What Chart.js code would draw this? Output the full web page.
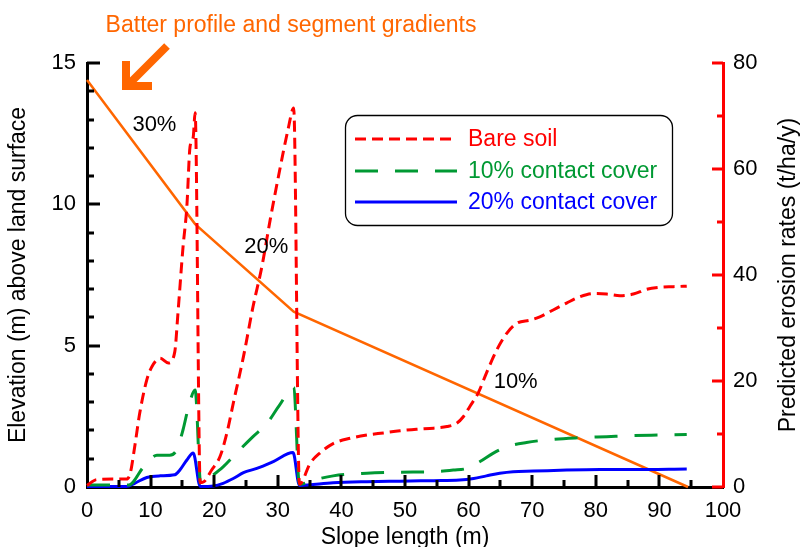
<!DOCTYPE html>
<html>
<head>
<meta charset="utf-8">
<script src="https://cdn.jsdelivr.net/npm/chart.js@4.4.1/dist/chart.umd.min.js"></script>
<style>
  html, body { margin: 0; padding: 0; background: #fff; }
  #wrap { width: 802px; height: 547px; }
</style>
</head>
<body>
<div id="wrap"><canvas id="myChart" width="802" height="547"></canvas></div>
<script>
// batter profile, elevation in m (left axis)
const profileX = [0, 17, 32.5, 94.5];
const profileElev = [14.4, 9.3, 6.2, 0];

// predicted erosion rates, t/ha/y (right axis)
const bareSoilX = [0, 1.5, 4, 6.2, 6.8, 7.5, 8.3, 9.4, 10.2, 11.5, 12.8, 13.8, 14.3, 15.1, 15.7, 16.2, 16.7, 17.0, 17.8, 18.4,
  19.6, 20.9, 22.0, 23.0, 24.6, 26.1, 27.5, 28.8, 30.3, 31.6, 32.5, 33.4, 35.1, 36.6, 38.7, 41.4, 44.0, 46.6, 49.2, 51.8,
  54.5, 56.6, 58.1, 59.2, 60.2, 61.5, 62.8, 64.4, 66.0, 67.6, 69.7, 71.2, 73.3, 75.4, 77.5, 79.6, 81.7, 83.8, 85.9, 88.0,
  90.1, 92.2, 94.3];
const bareSoil = [0.3, 1.4, 1.5, 1.5, 2.6, 7.6, 14.0, 20.2, 22.7, 24.3, 23.4, 25.5, 32.8, 45.3, 52.9, 64.2, 66.0, 70.6, 0.8, 1.0,
  3.2, 5.7, 10.2, 15.8, 24.6, 34.0, 41.6, 50.4, 59.8, 67.4, 71.5, 0.5, 4.5, 6.4, 8.2, 9.2, 9.8, 10.2, 10.6, 10.9,
  11.1, 11.4, 12.0, 13.3, 15.2, 17.7, 21.5, 25.8, 29.0, 30.9, 31.5, 32.1, 33.4, 34.7, 35.9, 36.5, 36.4, 36.1, 36.4, 37.3,
  37.7, 37.8, 37.9];

const coverTenX = [0, 3, 6.6, 8.9, 11.0, 13.0, 14.1, 15.1, 15.9, 17.0, 17.9, 18.8, 21.4, 23.5, 26.1, 28.3, 30.3, 32.5,
  33.4, 35.6, 38.7, 44.0, 49.2, 54.5, 57.6, 59.7, 61.8, 63.9, 66.0, 69.1, 73.3, 77.5, 81.7, 85.9, 90.1, 94.3];
const coverTen = [0.4, 0.4, 0.4, 3.8, 6.0, 6.0, 7.0, 10.8, 14.8, 18.3, 0.4, 1.3, 3.8, 6.4, 9.5, 12.0, 15.5, 18.8,
  0.5, 1.3, 2.1, 2.6, 2.8, 2.9, 3.2, 3.5, 4.8, 6.4, 7.6, 8.4, 9.0, 9.3, 9.5, 9.7, 9.8, 9.9];

const coverTwentyX = [0, 6.2, 7.5, 9.4, 11.5, 13.8, 14.6, 15.7, 16.7, 17.8, 19.9, 21.4, 23.0, 24.6, 26.7, 29.3, 32.4,
  33.4, 38.7, 44.0, 49.2, 54.5, 58.6, 60.8, 62.8, 64.9, 67.0, 70.2, 75.4, 80.7, 85.9, 94.3];
const coverTwenty = [0.1, 0.1, 0.7, 1.8, 2.1, 2.3, 3.2, 5.1, 6.4, 0.1, 0.2, 0.7, 1.6, 2.7, 3.5, 4.8, 6.5,
  0.3, 0.8, 1.0, 1.1, 1.2, 1.3, 1.6, 2.1, 2.6, 2.9, 3.0, 3.2, 3.3, 3.3, 3.4];

// segment gradient labels (placed in data coords of the profile)
const gradientLabels = ['30%', '20%', '10%'];
const gradientX = [10.6, 28.2, 67.4];
const gradientY = [12.8, 8.5, 3.7];

const FONT = "'Liberation Sans', Arial, sans-serif";
const ORANGE = '#ff6600';

function pts(xs, ys) {
  return xs.map((x, i) => ({ x: x, y: ys[i] }));
}

// inward ticks (major + minor), right title, legend box, notes
const decor = {
  id: 'decor',
  afterDraw(chart) {
    const ctx = chart.ctx;
    const sx = chart.scales.x, sy = chart.scales.y, sy1 = chart.scales.y1;
    const a = chart.chartArea;
    ctx.save();
    ctx.lineWidth = 3;
    ctx.lineCap = 'butt';

    //x ticks every 5, long every 10
    ctx.strokeStyle = '#000';
    ctx.beginPath();
    for (let v = 5; v < 100; v += 5) {
      const px = Math.round(sx.getPixelForValue(v));
      const len = v % 10 === 0 ? 12 : 7;
      ctx.moveTo(px, a.bottom);
      ctx.lineTo(px, a.bottom - len);
    }
    //left ticks every 1, long every 5
    for (let v = 1; v <= 15; v += 1) {
      const py = Math.round(sy.getPixelForValue(v));
      const len = v % 5 === 0 ? 13 : 7;
      ctx.moveTo(a.left, py);
      ctx.lineTo(a.left + len, py);
    }
    ctx.stroke();

    //right ticks every 10, long every 20
    ctx.strokeStyle = '#ff0000';
    ctx.beginPath();
    for (let v = 0; v <= 80; v += 10) {
      const py = Math.round(sy1.getPixelForValue(v));
      const len = v % 20 === 0 ? 11 : 6;
      ctx.moveTo(a.right, py);
      ctx.lineTo(a.right - len, py);
    }
    ctx.stroke();

    // right axis title reads bottom to top
    ctx.fillStyle = '#000';
    ctx.font = '23px ' + FONT;
    ctx.textAlign = 'center';
    ctx.textBaseline = 'middle';
    ctx.save();
    ctx.translate(789, (a.top + a.bottom) / 2);
    ctx.rotate(-Math.PI / 2);
    ctx.fillText('Predicted erosion rates (t/ha/y)', 0, 0);
    ctx.restore();

    // gradient labels
    ctx.font = '22px ' + FONT;
    gradientLabels.forEach((t, i) => {
      ctx.fillText(t, sx.getPixelForValue(gradientX[i]), sy.getPixelForValue(gradientY[i]));
    });

    // chart title + arrow
    ctx.fillStyle = ORANGE;
    ctx.font = '23px ' + FONT;
    ctx.textBaseline = 'alphabetic';
    ctx.fillText('Batter profile and segment gradients', 291, 32);
    ctx.strokeStyle = ORANGE;
    ctx.lineWidth = 8;
    ctx.lineJoin = 'miter';
    ctx.beginPath();
    ctx.moveTo(167, 46);
    ctx.lineTo(128, 85);
    ctx.stroke();
    ctx.beginPath();
    ctx.moveTo(126, 61);
    ctx.lineTo(126, 86);
    ctx.lineTo(152, 86);
    ctx.stroke();

    // legend
    ctx.lineWidth = 1.3;
    ctx.strokeStyle = '#000';
    ctx.fillStyle = '#fff';
    ctx.beginPath();
    ctx.roundRect(345.5, 115.5, 327, 110, 12);
    ctx.fill();
    ctx.stroke();
    ctx.textAlign = 'left';
    ctx.textBaseline = 'middle';
    ctx.font = '23px ' + FONT;
    const rows = [139, 171, 202];
    chart.data.datasets.filter(d => d.yAxisID === 'y1').forEach((d, i) => {
      ctx.strokeStyle = d.borderColor;
      ctx.lineWidth = 3;
      ctx.setLineDash(d.borderDash || []);
      ctx.beginPath();
      ctx.moveTo(355, rows[i]);
      ctx.lineTo(457, rows[i]);
      ctx.stroke();
      ctx.setLineDash([]);
      ctx.fillStyle = d.borderColor;
      ctx.fillText(d.label, 468, rows[i] + 1);
    });
    ctx.restore();
  }
};

new Chart(document.getElementById('myChart'), {
  type: 'line',
  data: {
    datasets: [
      {
        label: 'Bare soil',
        data: pts(bareSoilX, bareSoil),
        yAxisID: 'y1',
        borderColor: '#ff0000',
        borderWidth: 3,
        borderDash: [11, 6],
        cubicInterpolationMode: 'monotone',
        pointRadius: 0,
        clip: 4
      },
      {
        label: '10% contact cover',
        data: pts(coverTenX, coverTen),
        yAxisID: 'y1',
        borderColor: '#009933',
        borderWidth: 3,
        borderDash: [23, 17],
        cubicInterpolationMode: 'monotone',
        pointRadius: 0,
        clip: 4
      },
      {
        label: '20% contact cover',
        data: pts(coverTwentyX, coverTwenty),
        yAxisID: 'y1',
        borderColor: '#0000ff',
        borderWidth: 3,
        cubicInterpolationMode: 'monotone',
        pointRadius: 0,
        clip: 4
      },
      {
        label: 'Batter profile',
        data: pts(profileX, profileElev),
        yAxisID: 'y',
        borderColor: ORANGE,
        borderWidth: 2.5,
        tension: 0,
        pointRadius: 0,
        clip: 4
      }
    ]
  },
  options: {
    responsive: false,
    animation: false,
    devicePixelRatio: 1,
    layout: { padding: { top: 63, right: 0, bottom: 0, left: 0 } },
    plugins: {
      legend: { display: false },
      tooltip: { enabled: false },
      title: { display: false }
    },
    scales: {
      x: {
        type: 'linear',
        min: 0,
        max: 100,
        ticks: { stepSize: 10, padding: 11, color: '#000', font: { family: FONT, size: 22 }, maxRotation: 0 },
        grid: { display: false, drawTicks: false },
        border: { display: true, color: '#000', width: 3 },
        title: { display: true, text: 'Slope length (m)', color: '#000', font: { family: FONT, size: 23 }, padding: { top: 0, bottom: -4 } },
        afterFit(scale) { scale.height = 60; }
      },
      y: {
        position: 'left',
        min: 0,
        max: 15,
        ticks: { stepSize: 5, padding: 11, color: '#000', font: { family: FONT, size: 22 } },
        grid: { display: false, drawTicks: false },
        border: { display: true, color: '#000', width: 3 },
        title: { display: true, text: 'Elevation (m) above land surface', color: '#000', font: { family: FONT, size: 23 }, padding: { top: 5, bottom: 0 } },
        afterFit(scale) { scale.width = 87; }
      },
      y1: {
        position: 'right',
        min: 0,
        max: 80,
        ticks: { stepSize: 20, padding: 10, color: '#000', font: { family: FONT, size: 22 } },
        grid: { display: false, drawTicks: false },
        border: { display: true, color: '#ff0000', width: 3 },
        afterFit(scale) { scale.width = 79; }
      }
    }
  },
  plugins: [decor]
});
</script>
</body>
</html>
